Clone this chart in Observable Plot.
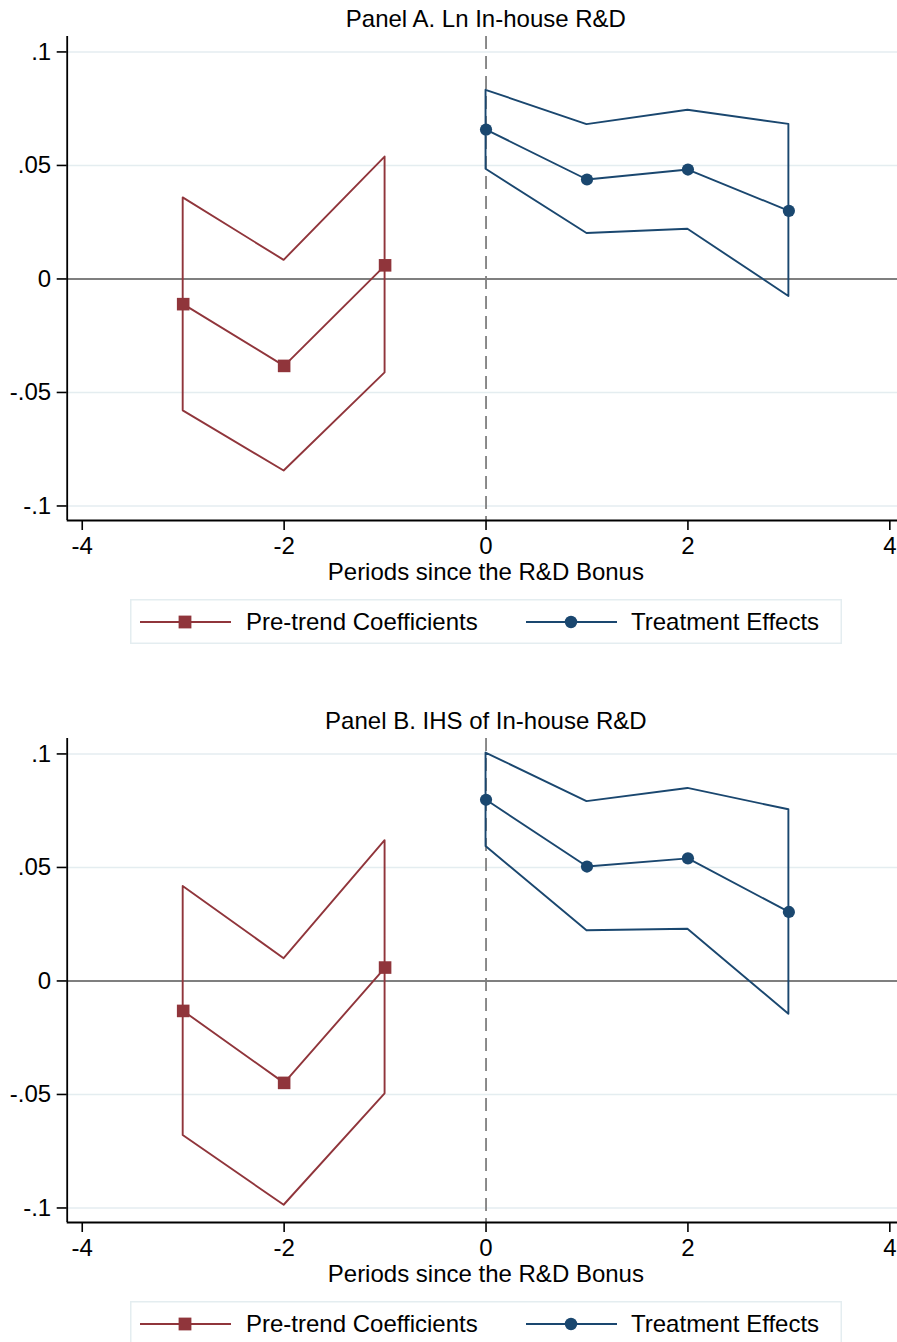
<!DOCTYPE html>
<html>
<head>
<meta charset="utf-8">
<script src="https://cdn.jsdelivr.net/npm/d3@7"></script>
<script src="https://cdn.jsdelivr.net/npm/@observablehq/plot@0.6"></script>
<style>
  body { margin: 0; background: #fff; font-family: "Liberation Sans", Arial, Helvetica, sans-serif; }
  #root { position: relative; width: 897px; height: 1342px; overflow: hidden; background: #fff; }
  .panel { position: absolute; left: 0; }
  .legend { position: absolute; left: 130px; }
</style>
</head>
<body>
<div id="root"></div>
<script>
// ---- Data ----
const periodsPre = [-3, -2, -1];
const periodsPost = [0, 1, 2, 3];
const panelTitles = ["Panel A. Ln In-house R&D", "Panel B. IHS of In-house R&D"];
const xLabel = "Periods since the R&D Bonus";
const seriesNames = ["Pre-trend Coefficients", "Treatment Effects"];
const xTicks = [-4, -2, 0, 2, 4];
const xTickLabels = ["-4", "-2", "0", "2", "4"];
const yTicks = [-0.1, -0.05, 0, 0.05, 0.1];
const yTickLabels = ["-.1", "-.05", "0", ".05", ".1"];

// Panel A
const aPreCoef = [-0.0111, -0.0383, 0.0060];
const aPreLo   = [-0.0581, -0.0846, -0.0414];
const aPreHi   = [0.0357, 0.0082, 0.0537];
const aPostCoef = [0.0658, 0.0438, 0.0482, 0.0300];
const aPostLo   = [0.0483, 0.0200, 0.0219, -0.0077];
const aPostHi   = [0.0831, 0.0680, 0.0743, 0.0681];

// Panel B
const bPreCoef = [-0.0132, -0.0449, 0.0059];
const bPreLo   = [-0.0681, -0.0988, -0.0497];
const bPreHi   = [0.0416, 0.0098, 0.0618];
const bPostCoef = [0.0798, 0.0504, 0.0540, 0.0304];
const bPostLo   = [0.0592, 0.0221, 0.0228, -0.0147];
const bPostHi   = [0.1004, 0.0790, 0.0848, 0.0754];

// ---- Style ----
const RED = "#90353b";
const BLUE = "#1a476f";
const GRID = "#e4edf0";
const REF = "#7f7f7f";
const FONT = '"Liberation Sans", Arial, Helvetica, sans-serif';
const xDomain = [-4.149, 4.076];
const yDomain = [-0.1064, 0.1068];
const LW = 1.9;

function rows(xs, coef, lo, hi) {
  return xs.map((x, i) => ({x, coef: coef[i], lo: lo[i], hi: hi[i]}));
}

function panel(title, pre, post) {
  return Plot.plot({
    width: 897,
    height: 590,
    marginTop: 36,
    marginBottom: 70,
    marginLeft: 66.7,
    marginRight: 0,
    x: {domain: xDomain},
    y: {domain: yDomain},
    style: {fontFamily: FONT, fontSize: "24px", color: "black", background: "white", overflow: "visible"},
    marks: [
      Plot.gridY(yTicks.filter(d => d !== 0), {stroke: GRID, strokeOpacity: 1, strokeWidth: 1.6}),
      Plot.ruleY([0], {stroke: REF, strokeWidth: 2}),
      Plot.ruleX([0], {stroke: REF, strokeWidth: 1.8, strokeDasharray: "13,7"}),
      Plot.areaY(pre, {x: "x", y1: "lo", y2: "hi", fill: "none", stroke: RED, strokeWidth: LW}),
      Plot.areaY(post, {x: "x", y1: "lo", y2: "hi", fill: "none", stroke: BLUE, strokeWidth: LW}),
      Plot.line(pre, {x: "x", y: "coef", stroke: RED, strokeWidth: LW}),
      Plot.line(post, {x: "x", y: "coef", stroke: BLUE, strokeWidth: LW}),
      Plot.dot(pre, {x: "x", y: "coef", symbol: "square", r: 7.1, fill: RED, stroke: "none"}),
      Plot.dot(post, {x: "x", y: "coef", r: 6.1, fill: BLUE, stroke: "none"}),
      Plot.ruleY([yDomain[0]], {stroke: "black", strokeWidth: 1.8}),
      Plot.ruleX([xDomain[0]], {stroke: "black", strokeWidth: 1.8}),
      Plot.axisX({ticks: xTicks, tickFormat: d => xTickLabels[xTicks.indexOf(d)], tickSize: 10, tickPadding: 6,
        label: null, fontSize: 24, strokeWidth: 1.6, fill: "black", stroke: "black"}),
      Plot.axisY({ticks: yTicks, tickFormat: d => yTickLabels[yTicks.indexOf(d)], tickSize: 10, tickPadding: 6,
        label: null, fontSize: 24, strokeWidth: 1.6, fill: "black", stroke: "black"}),
      Plot.text([title], {text: d => d, frameAnchor: "top", lineAnchor: "middle", dx: 3.5, dy: -17.5, fontSize: 24, fill: "black"}),
      Plot.text([xLabel], {text: d => d, frameAnchor: "bottom", lineAnchor: "middle", dx: 3.5, dy: 52, fontSize: 24, fill: "black"})
    ]
  });
}

function legend() {
  const W = 712, H = 45;
  const ns = "http://www.w3.org/2000/svg";
  const svg = document.createElementNS(ns, "svg");
  svg.setAttribute("width", W);
  svg.setAttribute("height", H);
  svg.style.display = "block";
  svg.style.fontFamily = FONT;
  const add = (tag, attrs, text) => {
    const el = document.createElementNS(ns, tag);
    for (const k in attrs) el.setAttribute(k, attrs[k]);
    if (text) el.textContent = text;
    svg.appendChild(el);
    return el;
  };
  add("rect", {x: 0.75, y: 0.75, width: W - 1.5, height: H - 1.5, fill: "white", stroke: GRID, "stroke-width": 1.5});
  const cy = 23;
  add("line", {x1: 10, x2: 101, y1: cy, y2: cy, stroke: RED, "stroke-width": LW});
  add("rect", {x: 55 - 6.4, y: cy - 6.4, width: 12.8, height: 12.8, fill: RED});
  add("text", {x: 116, y: cy, dy: "0.35em", "font-size": 24, fill: "black"}, seriesNames[0]);
  add("line", {x1: 396, x2: 487, y1: cy, y2: cy, stroke: BLUE, "stroke-width": LW});
  add("circle", {cx: 441, cy: cy, r: 6.2, fill: BLUE});
  add("text", {x: 501, y: cy, dy: "0.35em", "font-size": 24, fill: "black"}, seriesNames[1]);
  return svg;
}

const root = document.getElementById("root");
const configs = [
  {title: panelTitles[0], pre: rows(periodsPre, aPreCoef, aPreLo, aPreHi), post: rows(periodsPost, aPostCoef, aPostLo, aPostHi), top: 0, legendTop: 599},
  {title: panelTitles[1], pre: rows(periodsPre, bPreCoef, bPreLo, bPreHi), post: rows(periodsPost, bPostCoef, bPostLo, bPostHi), top: 701.7, legendTop: 1300.7}
];
for (const c of configs) {
  const wrap = document.createElement("div");
  wrap.className = "panel";
  wrap.style.top = c.top + "px";
  wrap.appendChild(panel(c.title, c.pre, c.post));
  root.appendChild(wrap);
  const lg = document.createElement("div");
  lg.className = "legend";
  lg.style.top = c.legendTop + "px";
  lg.appendChild(legend());
  root.appendChild(lg);
}
</script>
</body>
</html>
